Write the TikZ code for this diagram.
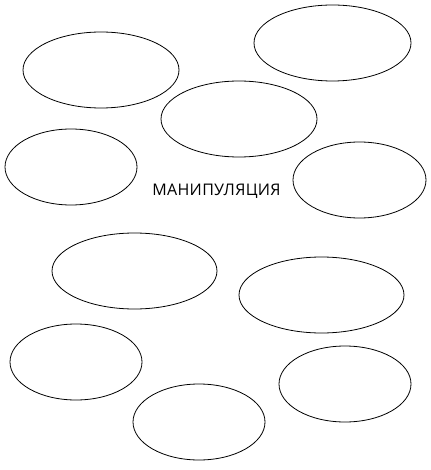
\documentclass[tikz,border=0pt]{standalone}
\usepackage{fontspec}
\setmainfont{Open Sans}
\begin{document}
\begin{tikzpicture}[x=1pt,y=-1pt,
  oval/.style={draw=black,line width=0.8pt},
  lbl/.style={font=\fontsize{16}{18}\selectfont\addfontfeature{LetterSpace=2},inner sep=0pt}]
\useasboundingbox (0,0) rectangle (430,470);
\draw[oval] (101,70) ellipse [x radius=78,y radius=38];
\draw[oval] (332.5,43) ellipse [x radius=78.5,y radius=38];
\draw[oval] (239,119) ellipse [x radius=78,y radius=38];
\draw[oval] (71,167) ellipse [x radius=66,y radius=38];
\draw[oval] (359.5,180) ellipse [x radius=66.5,y radius=38];
\node[lbl] (t) at (216.5,191) {МАНИПУЛЯЦИЯ};
\draw[oval] (134.5,271) ellipse [x radius=82.5,y radius=38];
\draw[oval] (321.5,295) ellipse [x radius=82.5,y radius=38];
\draw[oval] (76,362) ellipse [x radius=66,y radius=38];
\draw[oval] (345,384) ellipse [x radius=66,y radius=38];
\draw[oval] (199,422) ellipse [x radius=66,y radius=38];
\end{tikzpicture}
\end{document}
